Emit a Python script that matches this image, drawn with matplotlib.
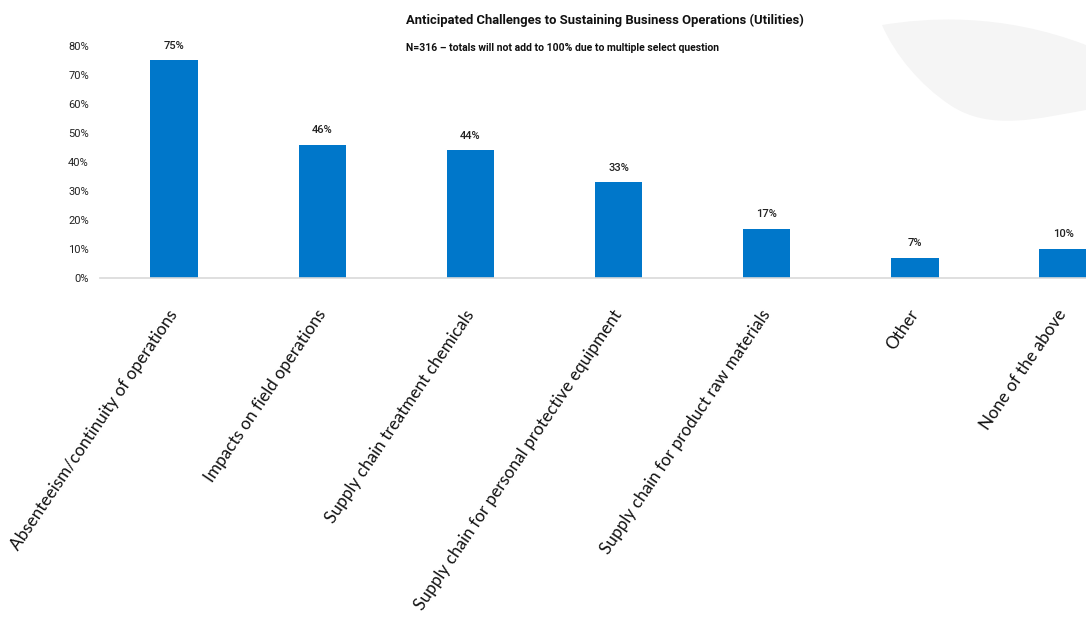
import matplotlib
matplotlib.use("Agg")
import matplotlib.pyplot as plt
from matplotlib.path import Path
from matplotlib.patches import PathPatch
import numpy as np

categories = [
    "Absenteeism/continuity of operations",
    "Impacts on field operations",
    "Supply chain treatment chemicals",
    "Supply chain for personal protective equipment",
    "Supply chain for product raw materials",
    "Other",
    "None of the above",
]
values = [75, 46, 44, 33, 17, 7, 10]
yticks = [0, 10, 20, 30, 40, 50, 60, 70, 80]
title = "Anticipated Challenges to Sustaining Business Operations (Utilities)"
subtitle = "N=316 \u2013 totals will not add to 100% due to multiple select question"

W, H = 1086, 638
fig = plt.figure(figsize=(W / 100, H / 100), dpi=100)
fig.patch.set_facecolor("white")

# decorative light-grey leaf shape in top-right corner
def fp(x, y):
    return (x / W, 1 - y / H)

verts = [fp(882, 25), fp(925, 18), fp(1000, 12), fp(1086, 45),
         fp(1086, 110),
         fp(1040, 118), fp(990, 132), fp(950, 105),
         fp(920, 85), fp(895, 55), fp(882, 25)]
codes = [Path.MOVETO, Path.CURVE4, Path.CURVE4, Path.CURVE4,
         Path.LINETO,
         Path.CURVE4, Path.CURVE4, Path.CURVE4,
         Path.CURVE4, Path.CURVE4, Path.CURVE4]
fig.patches.append(PathPatch(Path(verts, codes), facecolor="#f5f5f5",
                             edgecolor="none", transform=fig.transFigure,
                             zorder=0))

narrow = ["Roboto", "DejaVu Sans"]
label_font = ["Lato", "Open Sans", "DejaVu Sans"]

ax = fig.add_axes([100 / W, 1 - 278 / H, (W - 100) / W, (278 - 46) / H])
ax.set_facecolor("none")
x = np.arange(len(categories))
ax.bar(x, values, width=0.32, color="#0077CA", zorder=2)

ax.set_xlim(-0.5, 6.155)
ax.set_ylim(0, 80)
for s in ["top", "right", "left"]:
    ax.spines[s].set_visible(False)
ax.spines["bottom"].set_color("#d9d9d9")
ax.spines["bottom"].set_linewidth(1.2)

ax.set_yticks(yticks)
ax.set_yticklabels([f"{v}%" for v in yticks], family=narrow, fontsize=8)
ax.tick_params(axis="y", length=0, pad=8, colors="#222222")
ax.tick_params(axis="x", length=0, pad=24)

ax.set_xticks(x)
ax.set_xticklabels(categories, rotation=56, ha="right", va="center",
                   rotation_mode="anchor", family=label_font, fontsize=12.3,
                   color="#111111")

for xi, v in zip(x, values):
    ax.annotate(f"{v}%", (xi, v), xytext=(0, 7), textcoords="offset points",
                ha="center", va="bottom", family=narrow, fontsize=8,
                fontweight="medium", color="#222222")

fig.text(605 / W, 1 - 20 / H, title, ha="center", va="center",
         family=narrow, fontsize=9.4, fontweight="bold", color="#111111")
fig.text(563 / W, 1 - 48 / H, subtitle, ha="center", va="center",
         family=narrow, fontsize=7.5, fontweight="bold", color="#111111")

fig.savefig("out.png", dpi=100, facecolor="white")
